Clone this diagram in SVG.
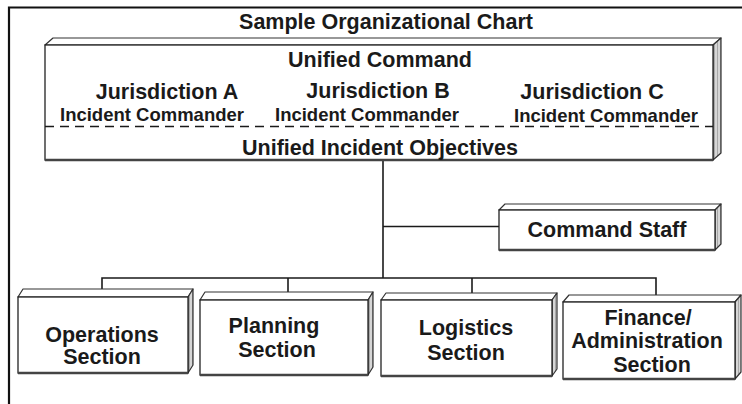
<svg xmlns="http://www.w3.org/2000/svg" width="742" height="404" viewBox="0 0 742 404">
  <defs>
    <!-- stippled grey used on the side faces of the blocks -->
    <pattern id="sideShade" width="3" height="3" patternUnits="userSpaceOnUse">
      <rect width="3" height="3" fill="#d6d6d6"/>
      <rect x="0" y="0" width="1" height="3" fill="#a8a8a8"/>
    </pattern>
  </defs>
  <style>
    .frame { fill: none; stroke: #111; stroke-width: 2.2; }
    .top { fill: #fff; stroke: #333; stroke-width: 1.2; stroke-linejoin: round; }
    .side { fill: url(#sideShade); stroke: #333; stroke-width: 1.2; stroke-linejoin: round; }
    .front { fill: #fff; stroke: #222; stroke-width: 1.3; }
    .base { stroke: #444; stroke-width: 2.4; fill: none; }
    .conn { fill: none; stroke: #1a1a1a; stroke-width: 1.6; }
    .dash { fill: none; stroke: #1a1a1a; stroke-width: 1.6; stroke-dasharray: 9 6; }
    text { font-family: "Liberation Sans", Arial, sans-serif; font-weight: bold; fill: #1a1a1a; text-anchor: middle; }
    .big { font-size: 21.5px; }
    .sub { font-size: 18.5px; }
  </style>

  <rect width="742" height="404" fill="#fff"/>

  <!-- page frame -->
  <path class="frame" d="M9,404 V7.5 H742"/>

  <text class="big" x="386" y="29">Sample Organizational Chart</text>

  <!-- connectors -->
  <g id="connectors">
    <path class="conn" d="M383,160 V278"/>
    <path class="conn" d="M383,226.5 H499"/>
    <path class="conn" d="M102,289 V278 H656 V295"/>
    <path class="conn" d="M288,278 V292"/>
    <path class="conn" d="M472,278 V293"/>
  </g>

  <!-- Unified Command block -->
  <g id="unified-command">
    <polygon class="top" points="45,45 53,38 721,38 713,45"/>
    <polygon class="side" points="713,45 721,38 721,153 713,160"/>
    <rect class="front" x="45" y="45" width="668" height="115"/>
    <path class="base" d="M45,160 H713"/>
    <text class="big" x="380" y="67">Unified Command</text>
    <text class="big" x="167" y="99">Jurisdiction A</text>
    <text class="sub" x="152" y="121">Incident Commander</text>
    <text class="big" x="378" y="98">Jurisdiction B</text>
    <text class="sub" x="367" y="121">Incident Commander</text>
    <text class="big" x="592" y="99">Jurisdiction C</text>
    <text class="sub" x="606" y="122">Incident Commander</text>
    <path class="dash" d="M45,126.5 H713"/>
    <text class="big" x="380" y="155">Unified Incident Objectives</text>
  </g>

  <!-- Command Staff block -->
  <g id="command-staff">
    <polygon class="top" points="499,210 505,204 721,204 715,210"/>
    <polygon class="side" points="715,210 721,204 721,244 715,250"/>
    <rect class="front" x="499" y="210" width="216" height="40"/>
    <path class="base" d="M499,250 H715"/>
    <text class="big" x="607" y="237">Command Staff</text>
  </g>

  <!-- Operations Section block -->
  <g id="operations">
    <polygon class="top" points="18,297 23,289 193,289 188,297"/>
    <polygon class="side" points="188,297 193,289 193,365 188,373"/>
    <rect class="front" x="18" y="297" width="170" height="76"/>
    <path class="base" d="M18,373 H188"/>
    <text class="big" x="102" y="342">Operations</text>
    <text class="big" x="102" y="364">Section</text>
  </g>

  <!-- Planning Section block -->
  <g id="planning">
    <polygon class="top" points="200,300 205,292 373,292 368,300"/>
    <polygon class="side" points="368,300 373,292 373,367 368,375"/>
    <rect class="front" x="200" y="300" width="168" height="75"/>
    <path class="base" d="M200,375 H368"/>
    <text class="big" x="274" y="333">Planning</text>
    <text class="big" x="277" y="357">Section</text>
  </g>

  <!-- Logistics Section block -->
  <g id="logistics">
    <polygon class="top" points="381,300 386,293 557,293 552,300"/>
    <polygon class="side" points="552,300 557,293 557,369 552,376"/>
    <rect class="front" x="381" y="300" width="171" height="76"/>
    <path class="base" d="M381,376 H552"/>
    <text class="big" x="466" y="335">Logistics</text>
    <text class="big" x="466" y="360">Section</text>
  </g>

  <!-- Finance/Administration Section block -->
  <g id="finance">
    <polygon class="top" points="563,302 569,295 741,295 735,302"/>
    <polygon class="side" points="735,302 741,295 741,372 735,379"/>
    <rect class="front" x="563" y="302" width="172" height="77"/>
    <path class="base" d="M563,379 H735"/>
    <text class="big" x="648" y="325">Finance/</text>
    <text class="big" x="647" y="348">Administration</text>
    <text class="big" x="652" y="372">Section</text>
  </g>
</svg>
